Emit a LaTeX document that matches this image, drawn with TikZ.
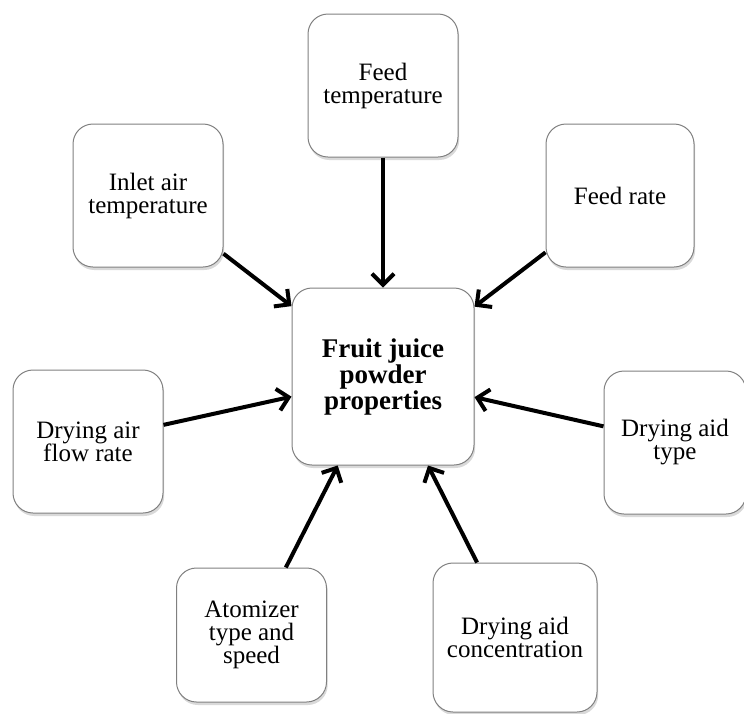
\documentclass[tikz,border=0pt]{standalone}
\usepackage{fontspec}
\setmainfont{Liberation Serif}
\usetikzlibrary{arrows.meta,shadows}

\begin{document}
\begin{tikzpicture}[
    x=0.5pt, y=-0.5pt,
    every node/.style={font=\fontsize{12.5}{11.5}\selectfont},
    factor/.style={draw=black!50, line width=0.5pt, fill=white,
        rounded corners=10pt, align=center, inner sep=2pt,
        minimum width=75pt, minimum height=71.5pt,
        drop shadow={opacity=0.3, shadow xshift=0.6pt, shadow yshift=-1.5pt}},
    result/.style={factor, minimum width=91pt, minimum height=88.5pt,
        font=\fontsize{13.5}{13}\selectfont\bfseries},
    arr/.style={line width=2pt, -{Straight Barb[length=5.5pt,width=11pt]}}
]
\useasboundingbox (0,0) rectangle (744,713);

% Central box
\node[result] (powder) at (383, 376.5) {Fruit juice\\powder\\properties};

% Top row
\node[factor] (feedtemp) at (383, 85.5) {Feed\\temperature};
\node[factor] (inlet) at (148, 195.5) {Inlet air\\temperature};
\node[factor, minimum width=74pt] (feedrate) at (620, 195.5) {Feed rate};

% Middle row
\node[factor] (airflow) at (88, 441.5) {Drying air\\flow rate};
\node[factor, minimum width=71pt] (aidtype) at (675, 442.5) {Drying aid\\type};

% Bottom row
\node[factor, minimum height=67pt] (atomizer) at (251.5, 635) {Atomizer\\type and\\speed};
\node[factor, minimum width=82pt, minimum height=74.5pt] (aidconc) at (515, 637.5) {Drying aid\\concentration};

% Arrows into the central box
\draw[arr] (feedtemp) -- (powder);
\draw[arr] (inlet) -- (powder);
\draw[arr] (feedrate) -- (powder);
\draw[arr] (airflow) -- (powder);
\draw[arr] (aidtype) -- (powder);
\draw[arr] (atomizer) -- (powder);
\draw[arr] (aidconc) -- (powder);

\end{tikzpicture}
\end{document}
